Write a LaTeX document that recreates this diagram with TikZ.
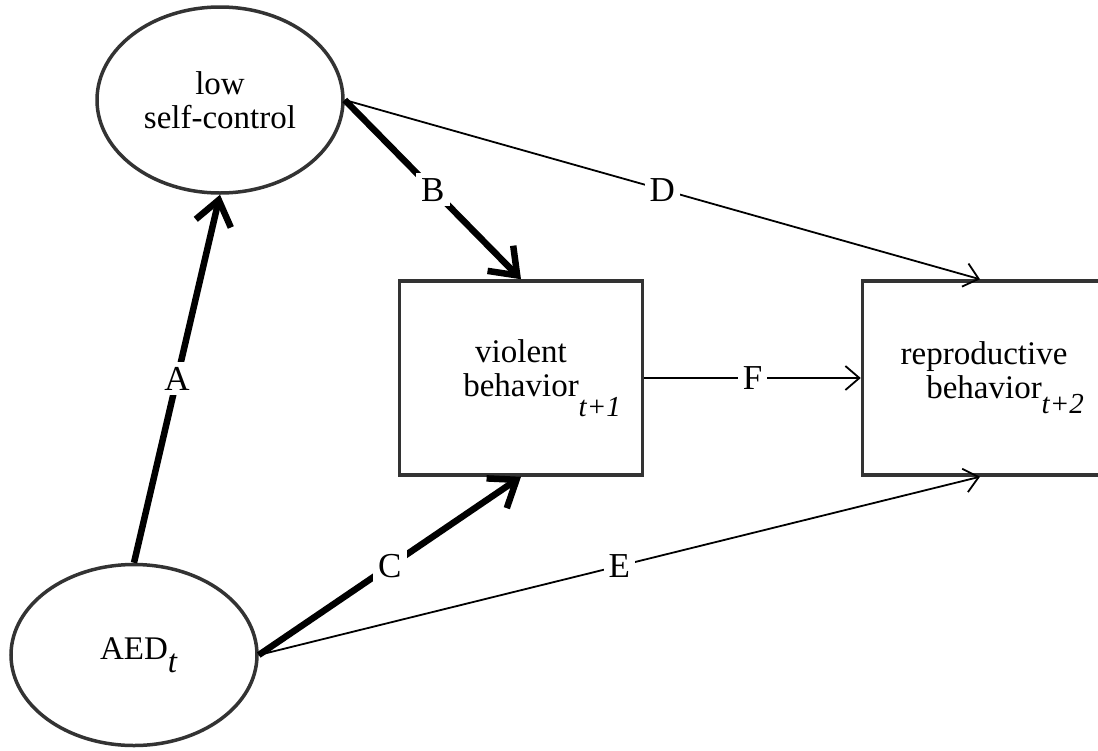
\documentclass[tikz,border=0pt]{standalone}
\usepackage{fontspec}
\setmainfont{Liberation Serif}
\usetikzlibrary{shapes.geometric,arrows.meta}
\newcommand{\hangsub}[2]{\rlap{\raisebox{#1}{\itshape #2}}}
\begin{document}
\begin{tikzpicture}[x=1pt,y=-1pt,
  every node/.style={font=\fontsize{33}{34}\selectfont},
  oval/.style={ellipse,draw=black!80,line width=3.5pt,fill=white,inner sep=0pt,align=center},
  boxnode/.style={rectangle,draw=black!80,line width=3.5pt,fill=white,inner sep=0pt,align=center},
  strong/.style={line width=6.5pt,-{Straight Barb[length=24pt,width=36pt,line width=6.5pt]}},
  weak/.style={line width=1.8pt,-{Straight Barb[length=14pt,width=24pt,line width=1.8pt]}},
  lab/.style={fill=white,inner sep=5pt,midway,font=\fontsize{35}{35}\selectfont}]
\useasboundingbox (0,0) rectangle (1098,750);
\clip (0,0) rectangle (1098,750);
\node[oval,minimum width=246pt,minimum height=186pt] (lsc) at (220,100) {low\\self-control};
\node[oval,minimum width=246pt,minimum height=181pt] (aed) at (134,655) {AED\hangsub{-0.38em}{t}};
\node[boxnode,minimum width=243pt,minimum height=194pt] (vb) at (521,378) {violent\\behavior\hangsub{-0.6em}{\fontsize{29}{29}\selectfont t+1}};
\node[boxnode,minimum width=243pt,minimum height=194pt] (rb) at (984,378) {reproductive\\behavior\hangsub{-0.45em}{\fontsize{29}{29}\selectfont t+2}};
\draw[strong] (aed.north) -- (lsc.south) node[lab] (la) {A};
\draw[strong] (lsc.east) -- (vb.north) node[lab] (lb) {B};
\draw[strong] (aed.east) -- (vb.south) node[lab] (lc) {C};
\draw[weak] (lsc.east) -- ([xshift=-4pt]rb.north) node[lab] (ld) {D};
\draw[weak] (aed.east) -- ([xshift=-4pt]rb.south) node[lab] (le) {E};
\draw[weak] (vb.east) -- (rb.west) node[lab] (lf) {F};
\end{tikzpicture}
\end{document}
